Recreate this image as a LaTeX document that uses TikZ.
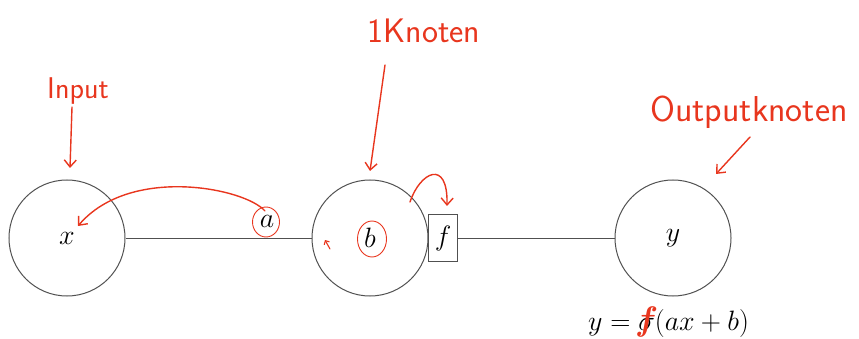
\RequirePackage{fix-cm}
\documentclass[tikz,border=0pt]{standalone}
\usepackage{amsmath,amssymb,bm}
\usetikzlibrary{arrows.meta}
\definecolor{pen}{HTML}{E8361E}
\definecolor{ink}{HTML}{505050}
\newcommand\lblfont{\fontsize{28}{32}\selectfont}
\begin{document}
\begin{tikzpicture}[x=1pt,y=-1pt,
  neuron/.style={circle,draw=ink,line width=1pt,minimum size=116pt,inner sep=0pt,font=\lblfont},
  fbox/.style={rectangle,draw=ink,line width=1pt,minimum width=29pt,minimum height=47pt,inner sep=0pt,font=\lblfont},
  lbl/.style={inner sep=0pt,font=\lblfont},
  conn/.style={draw=ink,line width=1pt},
  redpen/.style={draw=pen,line width=1.4pt,line cap=round,line join=round},
  redtip/.style={redpen,-{Straight Barb[length=7pt,width=12pt]}},
  note/.style={text=pen,inner sep=0pt,font=\sffamily}]
\useasboundingbox (0,0) rectangle (859,339);
\node[neuron] (x) at (67,238) {$x$};
\node[neuron] (b) at (370,238) {$b$};
\node[fbox] (f) at (443,238) {$f$};
\node[neuron] (y) at (673,238) {$y$};
\node[lbl] (a) at (267,221) {$a$};
\draw[conn] (x) -- (b);
\draw[conn] (f) -- (y);
\node[lbl,anchor=base west] (eq) at (588,330) {$y=\sigma(ax+b)$};
\node[lbl,anchor=base west] (cross) at (eq.base west) {$\phantom{y}\mathrel{\phantom{=}}\hbox{\ooalign{$\phantom{\sigma}$\cr\hidewidth\color{pen}\fontsize{34}{36}\selectfont$\bm{f}$\hidewidth\cr}}$};
% handwritten notes
\node[note,font=\sffamily\fontsize{30}{32}\selectfont,anchor=base] (in) at (78,99) {Input};
\node[note,font=\sffamily\fontsize{34}{36}\selectfont,anchor=base] (kn) at (424,43) {1Knoten};
\node[note,font=\sffamily\fontsize{36}{38}\selectfont,anchor=base] (out) at (749,122) {Outputknoten};
\coordinate (inS) at (72,107);
\coordinate (inT) at (70,168);
\coordinate (knS) at (385,65);
\coordinate (knT) at (370,171);
\coordinate (outS) at (750,137);
\coordinate (outT) at (716,174);
\draw[redtip] (inS) -- (inT);
\draw[redtip] (knS) -- (knT);
\draw[redtip] (outS) -- (outT);
% a -> x curve
\coordinate (aS) at (265,211);
\coordinate (xT) at (78,226);
\draw[redtip] (aS) .. controls (245,188) and (130,165) .. (xT);
% b -> f curve
\coordinate (bS) at (410,202);
\coordinate (fT) at (447,206);
\draw[redtip] (bS) .. controls (420,172) and (448,158) .. (fT);
% small tick arrow
\coordinate (tS) at (330,249);
\coordinate (tT) at (325,240);
\draw[redpen,line width=1.1pt,-{Straight Barb[length=3pt,width=6pt]}] (tS) -- (tT);
% circles round a and b
\draw[redpen,line width=0.9pt] (266,222) ellipse [x radius=13.5,y radius=15];
\draw[redpen,line width=0.9pt] (372,239) ellipse [x radius=14.5,y radius=18];
\end{tikzpicture}
\end{document}
